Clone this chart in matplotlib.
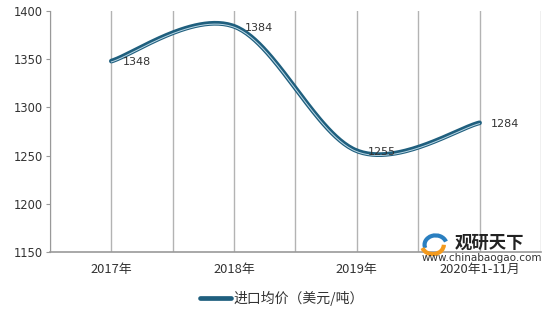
import numpy as np
import matplotlib
matplotlib.use("Agg")
from matplotlib import pyplot as plt
from matplotlib import transforms
from matplotlib.patches import Arc

plt.rcParams['font.family'] = ['Noto Sans CJK SC', 'DejaVu Sans']

categories = ["2017年", "2018年", "2019年", "2020年1-11月"]
prices = [1348, 1384, 1255, 1284]
series_name = "进口均价（美元/吨）"


def smooth(xs, ys, n=60):
    # bezier smoothing like a spreadsheet "smoothed line"
    pts = np.column_stack([xs, ys]).astype(float)
    ext = np.vstack([pts[0], pts, pts[-1]])
    out = []
    for i in range(len(pts) - 1):
        p0, p1 = ext[i + 1], ext[i + 2]
        c1 = p0 + (ext[i + 2] - ext[i]) / 6
        c2 = p1 - (ext[i + 3] - ext[i + 1]) / 6
        t = np.linspace(0, 1, n)[:, None]
        seg = (1 - t) ** 3 * p0 + 3 * (1 - t) ** 2 * t * c1 + 3 * (1 - t) * t ** 2 * c2 + t ** 3 * p1
        out.append(seg)
    out = np.vstack(out)
    return out[:, 0], out[:, 1]


fig = plt.figure(figsize=(5.51, 3.12), dpi=100)
ax = fig.add_axes([0.0907, 0.192, 0.891, 0.773])

x = np.arange(len(categories))
sx, sy = smooth(x, prices)

for gx in np.arange(-0.5, len(categories), 0.5):
    ax.axvline(gx, color="#b3b3b3", lw=1.0, zorder=1)

ax.plot(sx, sy, color="#1f5f7e", lw=3.4, solid_capstyle="round", zorder=3, label=series_name)
shift = transforms.offset_copy(ax.transData, fig=fig, x=0, y=-0.6, units="points")
ax.plot(sx, sy, color="#bcd8e6", lw=0.7, zorder=4, transform=shift)

for xi, v in zip(x, prices):
    ax.annotate(str(v), (xi, v), xytext=(8, -1), textcoords="offset points",
                ha="left", va="center", fontsize=8, color="#333333",
                family="DejaVu Sans", zorder=5)

ax.set_xlim(-0.5, len(categories) - 0.5)
ax.set_ylim(1150, 1400)
ax.set_yticks([1150, 1200, 1250, 1300, 1350, 1400])
ax.set_xticks(x)
ax.set_xticklabels(categories)
ax.tick_params(axis="y", length=3, color="#999999", labelsize=8.3, labelcolor="#333333", pad=2)
ax.tick_params(axis="x", length=0, labelsize=9.3, labelcolor="#333333", pad=8)
for lab in ax.get_yticklabels():
    lab.set_family("DejaVu Sans")

for s in ["top", "right"]:
    ax.spines[s].set_visible(False)
ax.spines["left"].set_color("#999999")
ax.spines["bottom"].set_color("#999999")
ax.spines["bottom"].set_linewidth(1.2)

leg = ax.legend(loc="upper center", bbox_to_anchor=(0.473, -0.11), frameon=False,
                fontsize=10, handlelength=2.2, handletextpad=0.2)
for t in leg.get_texts():
    t.set_color("#333333")

# watermark
fig.text(0.826, 0.222, "观研天下", fontsize=12.5, fontweight="bold", color="#222222", ha="left", va="center")
fig.text(0.765, 0.172, "www.chinabaogao.com", fontsize=7.5, color="#333333", ha="left", va="center",
         family="DejaVu Sans")
logo = fig.add_axes([0.763, 0.178, 0.05, 0.075])
logo.set_xlim(-1, 1)
logo.set_ylim(-1, 1)
logo.axis("off")
logo.add_patch(Arc((0.1, 0.0), 1.6, 1.6, theta1=20, theta2=200, color="#2a7fc0", lw=3))
logo.add_patch(Arc((-0.1, 0.0), 1.6, 1.6, theta1=200, theta2=360, color="#f39a1e", lw=3))

fig.savefig("out.png", dpi=100)
